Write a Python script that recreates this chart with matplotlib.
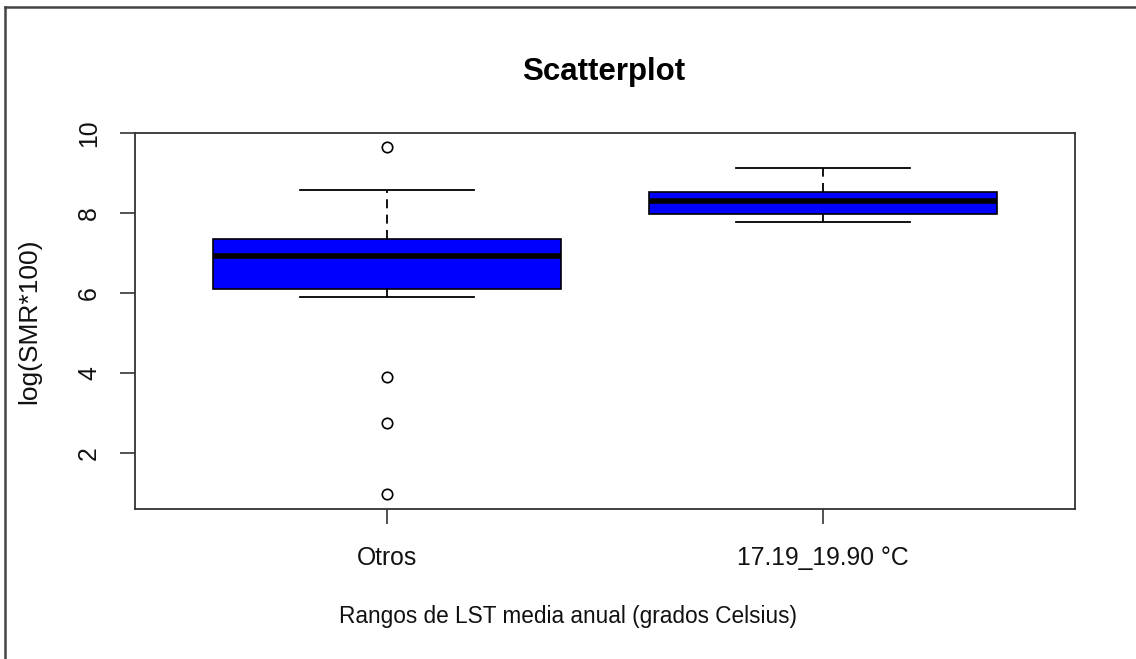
import matplotlib
matplotlib.use("Agg")
import matplotlib.pyplot as plt
from matplotlib.lines import Line2D

# ---- data ----
categories = ["Otros", "17.19_19.90 °C"]
q1 = [6.10, 7.97]
medians = [6.93, 8.30]
q3 = [7.35, 8.53]
whisker_low = [5.91, 7.78]
whisker_high = [8.58, 9.13]
outliers = [[9.66, 3.91, 2.76, 0.97], []]
yticks = [2, 4, 6, 8, 10]

title = "Scatterplot"
xlabel = "Rangos de LST media anual (grados Celsius)"
ylabel = "log(SMR*100)"

plt.rcParams['font.family'] = ['Liberation Sans', 'DejaVu Sans']

W, H = 1136, 659
fig = plt.figure(figsize=(W / 100, H / 100), dpi=100)

# axes placed in pixel coordinates
l, r, t, b = 135, 1075, 133, 509
ax = fig.add_axes([l / W, (H - b) / H, (r - l) / W, (b - t) / H])

stats = []
for i in range(len(categories)):
    stats.append(dict(label=categories[i], q1=q1[i], med=medians[i], q3=q3[i],
                      whislo=whisker_low[i], whishi=whisker_high[i],
                      fliers=outliers[i]))

ax.bxp(stats, positions=[1, 2], widths=0.8, patch_artist=True,
       boxprops=dict(facecolor="#0000ff", edgecolor="black", linewidth=1.2),
       medianprops=dict(color="black", linewidth=4, solid_capstyle="butt"),
       whiskerprops=dict(color="black", linewidth=1.3, linestyle=(0, (5, 3.5))),
       capprops=dict(color="black", linewidth=1.3),
       capwidths=0.4,
       flierprops=dict(marker="o", markersize=7.5, markerfacecolor="white",
                       markeredgecolor="black", markeredgewidth=1.2))

ax.set_xlim(0.42, 2.58)
ax.set_ylim(0.6, 10.0)
ax.set_yticks(yticks)
ax.set_yticklabels([str(v) for v in yticks], rotation=90, va="center")
ax.set_xticks([1, 2])
ax.set_xticklabels(categories)

for s in ax.spines.values():
    s.set_color("#333333")
    s.set_linewidth(1.3)

ax.tick_params(axis="both", length=10.5, width=1.2, color="#333333",
               labelsize=17.8, labelcolor="#111111")
ax.tick_params(axis="y", pad=14)
ax.tick_params(axis="x", pad=16)

ax.set_ylabel(ylabel, fontsize=19, color="#111111", labelpad=26)
fig.text(568 / W, 1 - 617 / H, xlabel, fontsize=16.3, color="#111111",
         ha="center", va="center")
fig.text(604 / W, 1 - 72 / H, title, fontsize=22.5, fontweight="bold",
         ha="center", va="center")

# partial outer frame (left & top) as in the screenshot
fig.add_artist(Line2D([5 / W, 5 / W], [0, 1 - 7 / H], transform=fig.transFigure,
                      color="#444444", linewidth=1.8))
fig.add_artist(Line2D([5 / W, 1], [1 - 7 / H, 1 - 7 / H], transform=fig.transFigure,
                      color="#444444", linewidth=1.8))

fig.savefig("out.png", dpi=100)
